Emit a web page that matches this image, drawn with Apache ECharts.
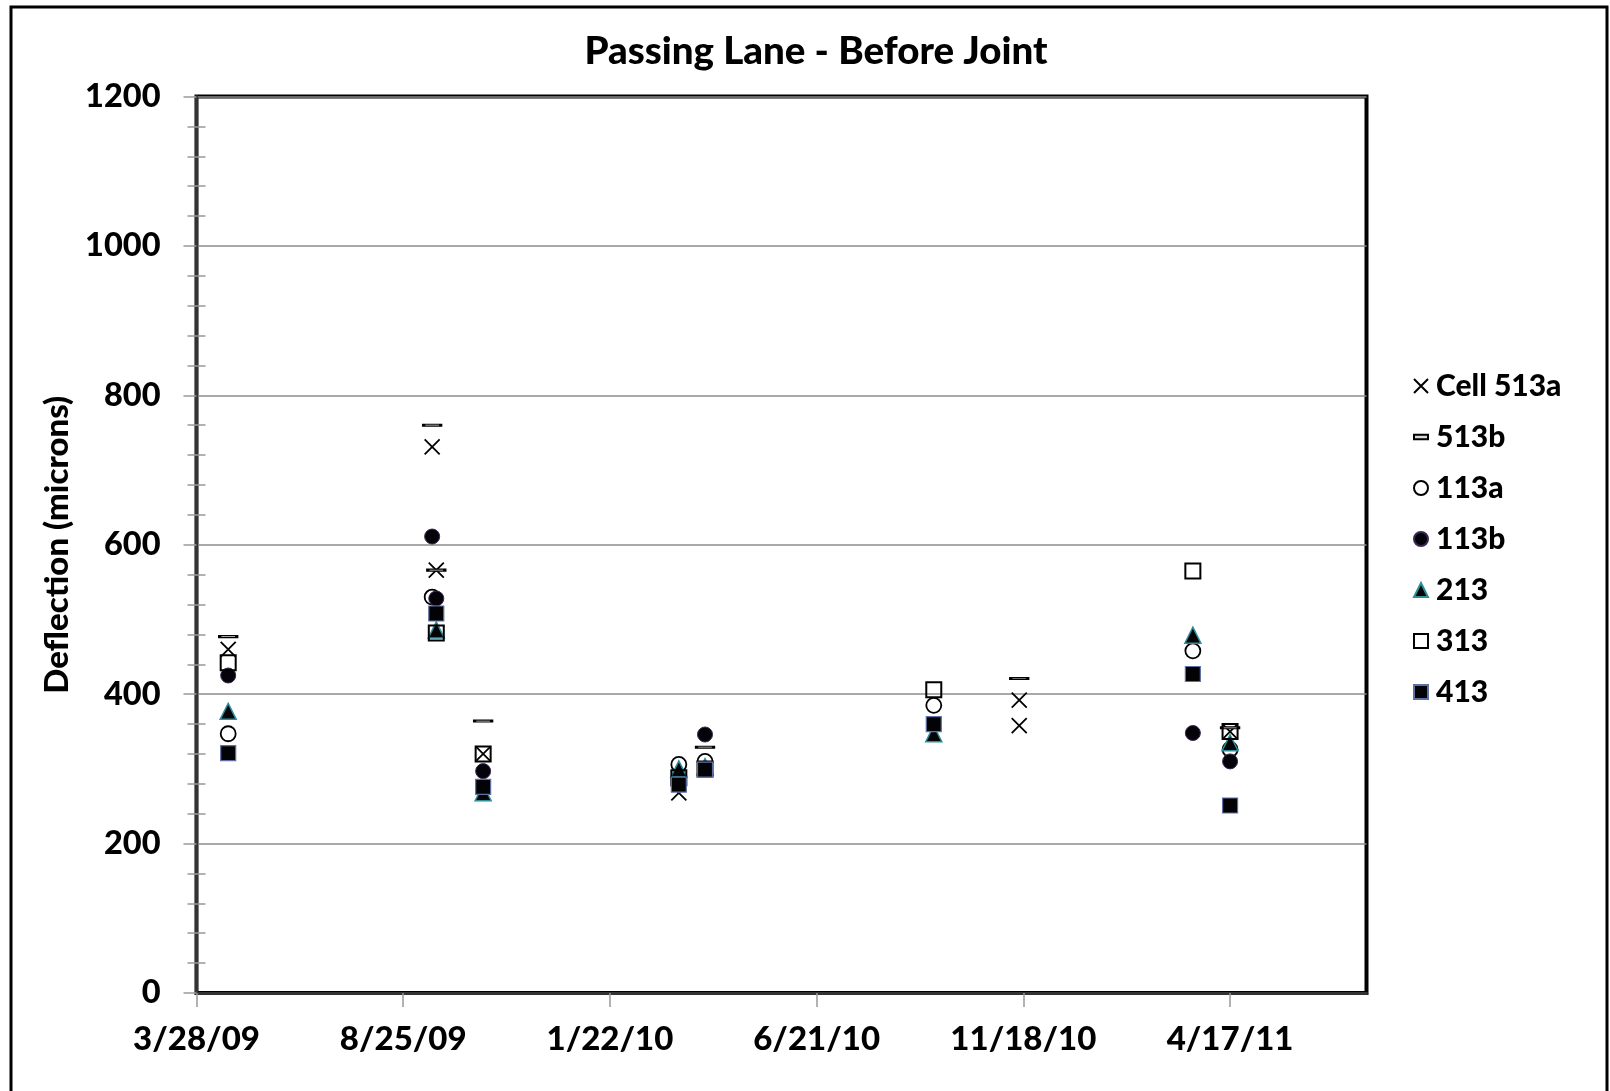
<!DOCTYPE html>
<html>
<head>
<meta charset="utf-8">
<script src="https://cdn.jsdelivr.net/npm/echarts@6/dist/echarts.min.js"></script>
<style>
  html, body { margin: 0; padding: 0; background: #fff; }
  #chart { width: 1610px; height: 1091px; }
</style>
</head>
<body>
<div id="chart"></div>
<script>
// Deflection readings per cell, as [date, microns]
const cell513a = [['4/20/09', 460], ['9/15/09', 731], ['9/18/09', 566], ['10/22/09', 320], ['3/13/10', 268], ['11/15/10', 392], ['11/15/10', 358], ['4/17/11', 350]];
const cell513b = [['4/20/09', 477], ['9/15/09', 760], ['9/18/09', 566], ['10/22/09', 364], ['4/1/10', 329], ['11/15/10', 421], ['4/17/11', 355]];
const cell113a = [['4/20/09', 347], ['9/15/09', 530], ['3/13/10', 306], ['4/1/10', 310], ['9/14/10', 385], ['3/21/11', 458], ['4/17/11', 326]];
const cell113b = [['4/20/09', 425], ['9/15/09', 611], ['9/18/09', 528], ['10/22/09', 297], ['4/1/10', 346], ['3/21/11', 348], ['4/17/11', 310]];
const cell213 = [['4/20/09', 377], ['9/18/09', 486], ['10/22/09', 268], ['3/13/10', 300], ['4/1/10', 303], ['9/14/10', 347], ['3/21/11', 479], ['4/17/11', 335]];
const cell313 = [['4/20/09', 442], ['9/18/09', 482], ['10/22/09', 320], ['3/13/10', 288], ['4/1/10', 300], ['9/14/10', 406], ['3/21/11', 565], ['4/17/11', 350]];
const cell413 = [['4/20/09', 321], ['9/18/09', 508], ['10/22/09', 276], ['3/13/10', 279], ['4/1/10', 299], ['9/14/10', 360], ['3/21/11', 427], ['4/17/11', 251]];

const seriesNames = ['Cell 513a', '513b', '113a', '113b', '213', '313', '413'];
const axisStartDate = '3/28/09';
const xTickDays = 150;
const xEndDays = 849;
const yMin = 0, yMax = 1200, yStep = 200;

const FONT = 'Lato, "Open Sans", sans-serif';

function parseDate(s) {
  const [m, d, y] = s.split('/').map(Number);
  return Date.UTC(2000 + y, m - 1, d);
}
const baseMs = parseDate(axisStartDate);
function toDays(s) { return Math.round((parseDate(s) - baseMs) / 86400000); }
function dayLabel(v) {
  if (Math.round(v) % xTickDays !== 0) return '';
  const dt = new Date(baseMs + v * 86400000);
  return (dt.getUTCMonth() + 1) + '/' + dt.getUTCDate() + '/' + String(dt.getUTCFullYear()).slice(2);
}
function points(arr) { return arr.map(p => [toDays(p[0]), p[1]]); }

const styles = [
  { symbol: 'path://M0,0L10,10M10,0L0,10', size: 15, item: { color: 'rgba(0,0,0,0)', borderColor: '#000', borderWidth: 1.8 } },
  { symbol: 'path://M0,0H16V5H0Z', size: [17, 6], keep: true, item: { color: '#d8d8d8', borderColor: '#000', borderWidth: 2 } },
  { symbol: 'circle', size: 15, item: { color: 'rgba(0,0,0,0)', borderColor: '#000', borderWidth: 1.8 } },
  { symbol: 'circle', size: 15, item: { color: '#05030a', borderColor: '#3a2650', borderWidth: 1 } },
  { symbol: 'triangle', size: 16, item: { color: '#050508', borderColor: '#2f8e9a', borderWidth: 1.5 } },
  { symbol: 'rect', size: 15, item: { color: 'rgba(0,0,0,0)', borderColor: '#000', borderWidth: 2 } },
  { symbol: 'rect', size: 15, item: { color: '#030306', borderColor: '#5f70a4', borderWidth: 1.2 } }
];
const allData = [cell513a, cell513b, cell113a, cell113b, cell213, cell313, cell413];

const series = allData.map((arr, i) => ({
  name: seriesNames[i],
  type: 'scatter',
  data: points(arr),
  symbol: styles[i].symbol,
  symbolSize: styles[i].size,
  symbolKeepAspect: !!styles[i].keep,
  itemStyle: Object.assign({ opacity: 1 }, styles[i].item),
  emphasis: { disabled: true },
  z: 3
}));

const chart = echarts.init(document.getElementById('chart'), null, { renderer: 'canvas' });
chart.setOption({
  animation: false,
  backgroundColor: '#fff',
  title: {
    text: 'Passing Lane - Before Joint',
    left: 811, top: 27, textAlign: 'center',
    textStyle: { fontFamily: FONT, fontSize: 38.5, fontWeight: 900, color: '#000' }
  },
  legend: {
    orient: 'vertical',
    left: 1408, top: 366,
    itemWidth: 14, itemHeight: 14, itemGap: 21,
    selectedMode: false,
    data: seriesNames,
    itemStyle: { opacity: 1 },
    textStyle: { fontFamily: FONT, fontSize: 30, fontWeight: 900, color: '#000', lineHeight: 30, padding: [0, 0, 0, 3] }
  },
  grid: {
    left: 196.5, right: 243.5, top: 96.5, bottom: 98,
    show: true, borderColor: '#000', borderWidth: 4, backgroundColor: '#fff'
  },
  xAxis: {
    type: 'value', min: 0, max: xEndDays, interval: xTickDays,
    axisLine: { show: true, lineStyle: { color: '#333', width: 3 } },
    axisTick: { show: true, length: 14, lineStyle: { color: '#999', width: 1.5 } },
    axisLabel: { margin: 30, showMaxLabel: false, formatter: dayLabel, fontFamily: FONT, fontSize: 33, fontWeight: 900, color: '#000' },
    splitLine: { show: false }
  },
  yAxis: [
    {
      type: 'value', min: yMin, max: yMax, interval: yStep, position: 'left',
      name: 'Deflection (microns)', nameLocation: 'middle', nameGap: 118,
      nameTextStyle: { fontFamily: FONT, fontSize: 33, fontWeight: 900, color: '#000' },
      axisLine: { show: true, lineStyle: { color: '#333', width: 3 } },
      axisTick: { show: true, length: 13, lineStyle: { color: '#999', width: 1.5 } },
      minorTick: { show: true, splitNumber: 5, length: 9, lineStyle: { color: '#999', width: 1.5 } },
      axisLabel: { margin: 36, formatter: v => String(v), fontFamily: FONT, fontSize: 32.5, fontWeight: 900, color: '#000' },
      splitLine: { show: true, lineStyle: { color: '#8c8c8c', width: 1.5 } }
    },
    {
      // inner half of the minor ticks, so they straddle the axis line
      type: 'value', min: yMin, max: yMax, interval: yStep, position: 'left',
      axisLine: { show: false },
      axisTick: { show: false, inside: true },
      minorTick: { show: true, splitNumber: 5, length: 9, lineStyle: { color: '#999', width: 1.5 } },
      axisLabel: { show: false },
      splitLine: { show: false }
    }
  ],
  graphic: [
    {
      type: 'rect', silent: true, z: 100,
      shape: { x: 11, y: 7, width: 1596, height: 1100 },
      style: { fill: 'none', stroke: '#000', lineWidth: 3 }
    }
  ],
  series: series
});
</script>
</body>
</html>
